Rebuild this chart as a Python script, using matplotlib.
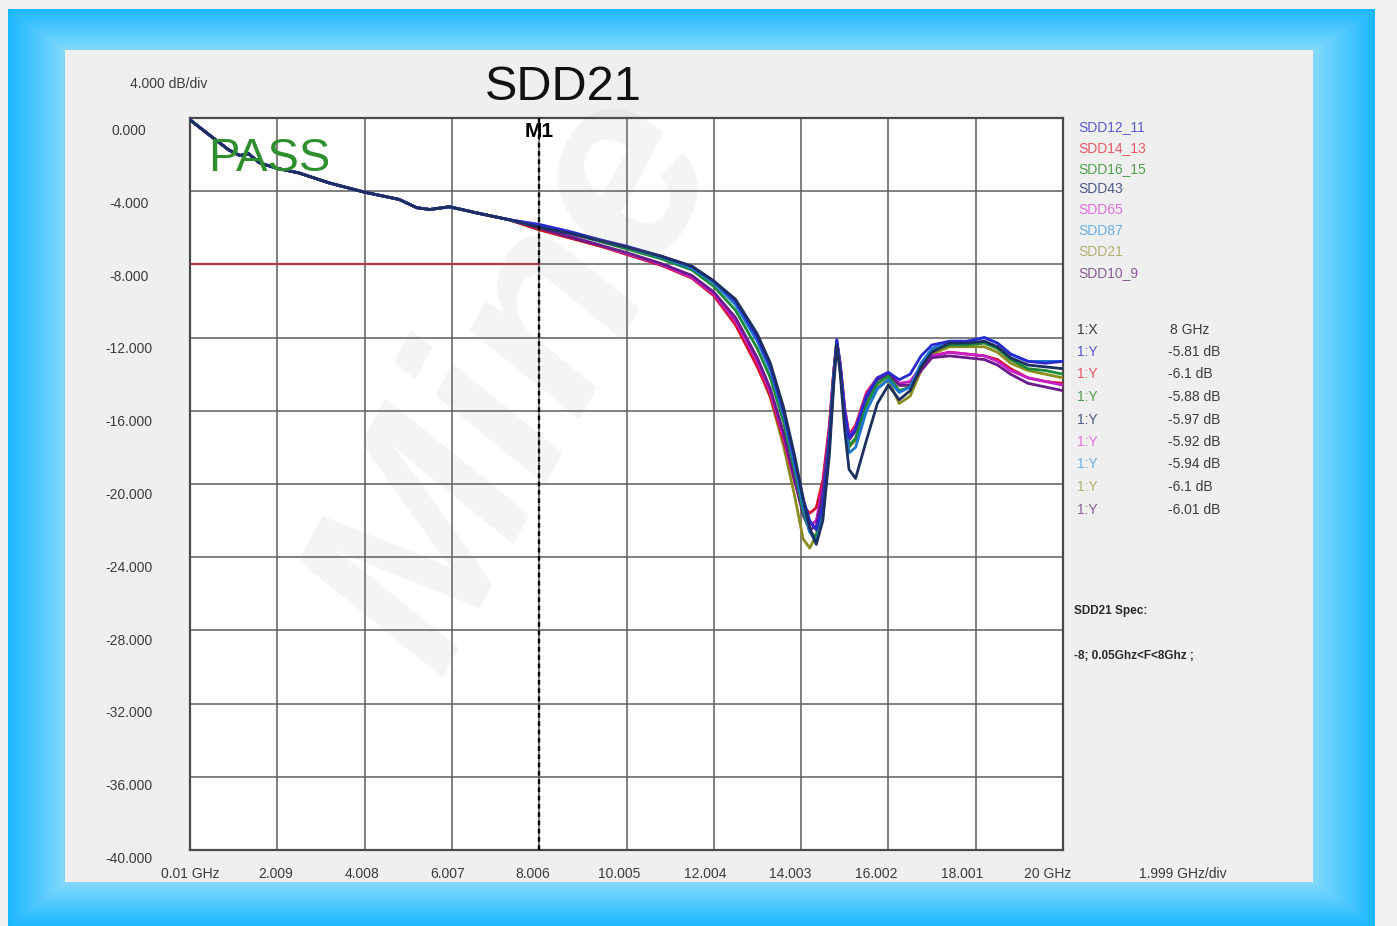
import numpy as np
import matplotlib
matplotlib.use("Agg")
import matplotlib.pyplot as plt
from matplotlib.patches import Rectangle

plt.rcParams['font.family'] = ['Liberation Sans', 'DejaVu Sans']

W, H = 1397, 926

# ---- data (GHz, dB) ----
freq_low = [0.01, 0.25, 0.6, 0.9, 1.15, 1.35, 1.6, 2.0, 2.5, 3.2, 4.0, 4.8, 5.2, 5.5, 5.95, 6.6, 7.3]
loss_low = [-0.1, -0.55, -1.2, -1.75, -2.05, -1.95, -2.45, -2.75, -3.0, -3.55, -4.05, -4.45, -4.9, -5.0,
            -4.85, -5.2, -5.55]

freq_high = [8.0, 8.7, 9.4, 10.0, 10.8, 11.5, 12.0, 12.5, 13.0, 13.3, 13.6, 13.85, 14.05, 14.2,
             14.35, 14.5, 14.65, 14.75, 14.82, 14.9, 15.0, 15.1, 15.25, 15.5, 15.75, 16.0, 16.25,
             16.5, 16.75, 17.0, 17.4, 17.8, 18.2, 18.5, 18.8, 19.2, 19.6, 20.0]

sdd12_11 = [-5.81, -6.2, -6.65, -7.0, -7.55, -8.1, -8.9, -10.0, -12.0, -13.6, -16.0, -18.6, -20.8, -22.0,
            -22.5, -21.2, -17.8, -14.2, -12.1, -13.6, -16.0, -17.5, -17.0, -15.2, -14.2, -13.9, -14.3,
            -14.0, -13.0, -12.4, -12.2, -12.2, -12.0, -12.3, -12.9, -13.3, -13.4, -13.3]
sdd14_13 = [-6.1, -6.55, -7.0, -7.45, -8.05, -8.75, -9.7, -11.3, -13.6, -15.2, -17.6, -19.8, -21.2, -21.6,
            -21.3, -19.8, -16.8, -13.8, -12.2, -13.4, -15.8, -17.3, -16.8, -15.0, -14.2, -14.0, -14.6,
            -14.6, -13.8, -13.0, -12.8, -12.9, -13.0, -13.2, -13.7, -14.2, -14.4, -14.5]
sdd16_15 = [-5.88, -6.3, -6.75, -7.15, -7.7, -8.3, -9.2, -10.5, -12.6, -14.2, -16.6, -19.2, -21.5, -22.6,
            -22.9, -21.2, -17.6, -14.0, -12.2, -13.6, -16.2, -17.9, -17.5, -15.6, -14.5, -14.1, -14.9,
            -14.7, -13.5, -12.7, -12.4, -12.4, -12.3, -12.6, -13.2, -13.7, -13.8, -14.0]
sdd43 = [-5.97, -6.3, -6.7, -7.05, -7.55, -8.1, -8.9, -9.9, -11.8, -13.4, -15.8, -18.4, -20.8, -22.4,
         -23.3, -22.0, -18.4, -14.6, -12.4, -14.0, -17.0, -19.2, -19.7, -17.6, -15.6, -14.6, -15.4,
         -14.9, -13.6, -12.8, -12.3, -12.3, -12.2, -12.5, -13.1, -13.5, -13.6, -13.7]
sdd65 = [-5.92, -6.45, -6.95, -7.4, -8.0, -8.7, -9.6, -11.1, -13.3, -15.0, -17.4, -19.8, -21.6, -22.3,
         -22.0, -20.2, -17.0, -13.9, -12.2, -13.5, -15.9, -17.4, -16.9, -15.1, -14.2, -13.9, -14.5,
         -14.4, -13.6, -13.0, -12.8, -12.9, -13.0, -13.3, -13.8, -14.2, -14.4, -14.6]
sdd87 = [-5.94, -6.3, -6.7, -7.05, -7.6, -8.2, -9.0, -10.2, -12.2, -13.8, -16.2, -18.9, -21.2, -22.6,
         -23.2, -21.8, -18.0, -14.3, -12.3, -13.8, -16.5, -18.3, -18.0, -16.0, -14.8, -14.3, -15.0,
         -14.7, -13.4, -12.6, -12.2, -12.2, -12.0, -12.3, -12.9, -13.3, -13.3, -13.3]
sdd21 = [-6.1, -6.55, -7.0, -7.4, -8.0, -8.7, -9.6, -11.2, -13.5, -15.3, -17.9, -20.6, -23.0, -23.5,
         -22.8, -20.5, -17.0, -13.9, -12.2, -13.7, -16.3, -18.0, -17.6, -15.8, -14.7, -14.3, -15.6,
         -15.2, -13.8, -12.9, -12.5, -12.5, -12.5, -12.8, -13.4, -13.8, -14.0, -14.2]
sdd10_9 = [-6.01, -6.5, -6.95, -7.35, -7.95, -8.6, -9.5, -10.9, -13.1, -14.8, -17.2, -19.7, -21.7, -22.5,
           -22.3, -20.5, -17.2, -14.0, -12.3, -13.6, -16.0, -17.6, -17.1, -15.3, -14.3, -14.0, -14.6,
           -14.6, -13.8, -13.1, -13.0, -13.1, -13.2, -13.5, -14.0, -14.5, -14.7, -14.9]

trace_names = ["SDD12_11", "SDD14_13", "SDD16_15", "SDD43", "SDD65", "SDD87", "SDD21", "SDD10_9"]
trace_data = [sdd12_11, sdd14_13, sdd16_15, sdd43, sdd65, sdd87, sdd21, sdd10_9]
marker_vals = ["-5.81 dB", "-6.1 dB", "-5.88 dB", "-5.97 dB", "-5.92 dB", "-5.94 dB", "-6.1 dB", "-6.01 dB"]

spec_f = [0.05, 8.0]
spec_db = [-8.0, -8.0]
marker_f = 8.0

x_labels = ["0.01 GHz", "2.009", "4.008", "6.007", "8.006", "10.005", "12.004", "14.003",
            "16.002", "18.001", "20 GHz"]
x_ticks = [0.01, 2.009, 4.008, 6.007, 8.006, 10.005, 12.004, 14.003, 16.002, 18.001, 20.0]
y_labels = ["0.000", "-4.000", "-8.000", "-12.000", "-16.000", "-20.000", "-24.000",
            "-28.000", "-32.000", "-36.000", "-40.000"]
y_ticks = [0, -4, -8, -12, -16, -20, -24, -28, -32, -36, -40]

trace_colors = ['#2a2ad0', '#d8102a', '#1a8a3a', '#1c2f5e', '#c81ec8', '#1a78d0', '#8c8c1e', '#6a1a8a']
label_colors = ['#5a5ad0', '#e85a64', '#50a050', '#4a5a86', '#e070e0', '#6aaee8', '#b2b070', '#8a5a96']
# stacking: dark blue traces end up on top, as in the screenshot
trace_z = [3.7, 3.2, 3.5, 3.8, 3.3, 3.6, 3.1, 3.4]

fig = plt.figure(figsize=(W / 100, H / 100), dpi=100, facecolor='#f1f1f1')


def ftext(x, y, s, **kw):
    return fig.text(x / W, 1 - y / H, s, **kw)


# blue gradient frame and grey panel
bg = fig.add_axes([0, 0, 1, 1])
bg.set_xlim(0, W)
bg.set_ylim(H, 0)
bg.axis('off')
yy, xx = np.mgrid[9:H, 8:1375].astype(float)
dx = np.maximum(np.maximum((65 - xx) / 57.0, (xx - 1313) / 62.0), 0)
dy = np.maximum(np.maximum((50 - yy) / 41.0, (yy - 882) / 44.0), 0)
t = np.clip(np.maximum(dx, dy), 0, 1)[..., None]
light = np.array([0.52, 0.85, 0.99])
dark = np.array([0.10, 0.72, 1.00])
bg.imshow(light + (dark - light) * t, extent=(8, 1375, H, 9), aspect='auto', interpolation='bilinear')
bg.add_patch(Rectangle((65, 50), 1248, 832, facecolor='#efefef', edgecolor='none'))

# main plot
ax = fig.add_axes([190 / W, 1 - 850 / H, 873 / W, 732 / H])
ax.set_facecolor('white')
ax.set_xlim(0.01, 20)
ax.set_ylim(-40, 0)
ax.set_xticks(x_ticks)
ax.set_yticks(y_ticks)
ax.tick_params(length=0, labelbottom=False, labelleft=False)
ax.grid(True, color='#5c5c5c', lw=1.1)
for sp in ax.spines.values():
    sp.set_color('#4a4a4a')
    sp.set_linewidth(1.6)

for vals, col, z in zip(trace_data, trace_colors, trace_z):
    ax.plot(freq_low + freq_high, loss_low + vals, color=col, lw=2.0, zorder=z)

ax.plot(spec_f, spec_db, color='#b03a48', lw=1.6, zorder=2)
ax.axvline(marker_f, color='black', lw=1.7, ls=(0, (2, 1.5)), zorder=4)
ax.text(marker_f, -0.75, 'M1', ha='center', va='center', fontsize=15, fontweight='bold', zorder=5)

# axis labels
for i, lbl in enumerate(x_labels):
    ftext(190 + i * 85.8, 874, lbl, ha='center', va='center', fontsize=10, color='#3c3c3c')
ftext(1183, 874, "1.999 GHz/div", ha='center', va='center', fontsize=10, color='#3c3c3c')
for i, lbl in enumerate(y_labels):
    ftext(129, 131 + i * 72.8, lbl, ha='center', va='center', fontsize=10, color='#3c3c3c')
ftext(169, 84, "4.000 dB/div", ha='center', va='center', fontsize=10, color='#3c3c3c')

ftext(563, 88, "SDD21", ha='center', va='center', fontsize=35, color='#111111')
ftext(208, 159, "PASS", ha='left', va='center', fontsize=34, color='#2f8f2f', zorder=6)

# legend names
for i, (name, col) in enumerate(zip(trace_names, label_colors)):
    ftext(1078, 127 + i * 20.8, name, ha='left', va='center', fontsize=10, color=col)

# marker table
ftext(1077, 330, "1:X", ha='left', va='center', fontsize=10, color='#3c3c3c')
ftext(1170, 330, "8 GHz", ha='left', va='center', fontsize=10, color='#3c3c3c')
for i, (v, col) in enumerate(zip(marker_vals, label_colors)):
    ftext(1077, 352 + i * 22.5, "1:Y", ha='left', va='center', fontsize=10, color=col)
    ftext(1168, 352 + i * 22.5, v, ha='left', va='center', fontsize=10, color='#3c3c3c')

ftext(1074, 611, "SDD21 Spec:", ha='left', va='center', fontsize=8.5, fontweight='bold', color='#2a2a2a')
ftext(1074, 656, "-8; 0.05Ghz<F<8Ghz ;", ha='left', va='center', fontsize=8.5, fontweight='bold', color='#2a2a2a')

# faint watermark
ftext(520, 380, "Mine", rotation=62, ha='center', va='center', fontsize=190, fontweight='bold',
      fontstyle='italic', color='#8a8a8a', alpha=0.09, zorder=10)

fig.savefig('out.png', dpi=100, facecolor=fig.get_facecolor())
